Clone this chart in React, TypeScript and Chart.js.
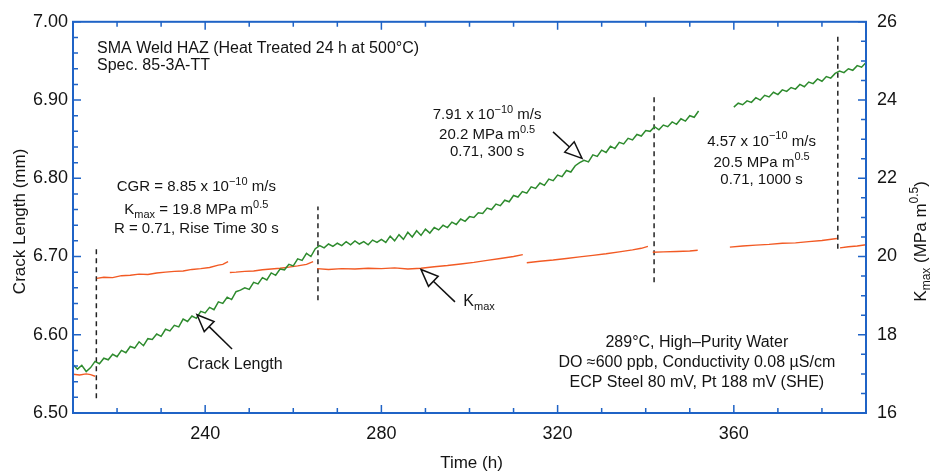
import React, { useEffect, useRef } from "react";
import { Chart, registerables } from "chart.js";

Chart.register(...registerables);

// ---- data ----
const crackSeg1StartHour = 210;
const crackSeg1 = [
  6.562, 6.556, 6.561, 6.553, 6.558, 6.566, 6.563, 6.570, 6.568, 6.575,
  6.572, 6.580, 6.577, 6.585, 6.583, 6.591, 6.586, 6.595, 6.594, 6.601,
  6.598, 6.607, 6.605, 6.612, 6.610, 6.620, 6.617, 6.624, 6.621, 6.630,
  6.628, 6.635, 6.632, 6.642, 6.640, 6.648, 6.645, 6.655, 6.657, 6.660,
  6.658, 6.667, 6.665, 6.673, 6.670, 6.679, 6.676, 6.684, 6.683, 6.690,
  6.688, 6.697, 6.695, 6.704, 6.700, 6.710, 6.714, 6.711, 6.716, 6.713,
  6.717, 6.714, 6.719, 6.715, 6.720, 6.716, 6.719, 6.715, 6.721, 6.718,
  6.722, 6.718, 6.726, 6.720, 6.728, 6.722, 6.731, 6.725, 6.733, 6.727,
  6.735, 6.730, 6.737, 6.734, 6.740, 6.737, 6.744, 6.741, 6.748, 6.745,
  6.751, 6.750, 6.756, 6.755, 6.762, 6.760, 6.767, 6.765, 6.772, 6.770,
  6.778, 6.776, 6.783, 6.781, 6.789, 6.787, 6.794, 6.791, 6.799, 6.797,
  6.804, 6.802, 6.810, 6.808, 6.816, 6.820, 6.823, 6.821, 6.830, 6.828,
  6.836, 6.833, 6.841, 6.838, 6.846, 6.844, 6.851, 6.849, 6.856, 6.854,
  6.861, 6.860, 6.866, 6.862, 6.868, 6.866, 6.872, 6.869, 6.876, 6.873,
  6.880, 6.878, 6.886,
];
const crackSeg2StartHour = 360;
const crackSeg2 = [
  6.891, 6.896, 6.894, 6.899, 6.897, 6.903, 6.900, 6.906, 6.904, 6.910,
  6.907, 6.913, 6.911, 6.916, 6.914, 6.920, 6.917, 6.923, 6.921, 6.927,
  6.924, 6.930, 6.928, 6.934, 6.937, 6.935, 6.940, 6.938, 6.944, 6.942,
  6.948,
];

const kmaxHours = [
  210, 211.5, 213, 214, 215, 215.2,
  215.4, 217, 219, 221, 223, 225, 227, 229, 231, 233, 235, 237, 239, 241, 243, 244, 245.2, 245.4,
  245.6, 247, 249, 251, 253, 255, 257, 259, 261, 263, 264.5, 265,
  265.4, 268, 271, 274, 277, 280, 283, 286, 289, 292, 295, 298, 301, 304, 307, 310, 312.1, 312.5,
  313, 316, 319, 322, 325, 328, 331, 334, 337, 339, 340.5, 341,
  341.6, 344, 347, 350, 351.8, 355,
  359.1, 362, 365, 368, 371, 374, 377, 380, 383.4, 383.8,
  384.1, 386, 388, 390,
];
const kmaxValues = [
  16.99, 16.97, 17.0, 16.98, 16.94, null,
  19.44, 19.47, 19.46, 19.51, 19.52, 19.55, 19.54, 19.58, 19.6, 19.62, 19.63, 19.67, 19.69, 19.72, 19.78, 19.8, 19.87, null,
  19.59, 19.6, 19.62, 19.63, 19.66, 19.68, 19.7, 19.73, 19.76, 19.8, 19.87, null,
  19.69, 19.67, 19.69, 19.68, 19.7, 19.69, 19.71, 19.68, 19.7, 19.74, 19.77, 19.81, 19.85, 19.9, 19.95, 20.0, 20.05, null,
  19.84, 19.88, 19.91, 19.95, 19.99, 20.03, 20.07, 20.12, 20.17, 20.21, 20.26, null,
  20.11, 20.12, 20.13, 20.14, 20.16, null,
  20.24, 20.27, 20.29, 20.31, 20.34, 20.35, 20.38, 20.41, 20.46, null,
  20.22, 20.25, 20.27, 20.3,
];

// dashed markers where test conditions changed
const markerHours = [215.3, 265.6, 341.9, 383.6];
const markerLow = [6.519, 6.644, 6.667, 6.71];
const markerHigh = [6.711, 6.764, 6.908, 6.981];

// axis ranges and labels
const timeRange = [210, 390];
const timeLabelEvery = 40;
const crackRange = [6.5, 7.0];
const kmaxRange = [16, 26];

type Part = { t: string; s?: "sup" | "sub" };

const notes: { parts: Part[]; h: number; mm: number; align: CanvasTextAlign; size: number }[] = [
  { parts: [{ t: "SMA Weld HAZ (Heat Treated 24 h at 500°C)" }], h: 215.45, mm: 6.966, align: "left", size: 16 },
  { parts: [{ t: "Spec. 85-3A-TT" }], h: 215.45, mm: 6.944, align: "left", size: 16 },
  { parts: [{ t: "CGR = 8.85 x 10" }, { t: "−10", s: "sup" }, { t: " m/s" }], h: 238.0, mm: 6.789, align: "center", size: 15 },
  { parts: [{ t: "K" }, { t: "max", s: "sub" }, { t: " = 19.8 MPa m" }, { t: "0.5", s: "sup" }], h: 238.0, mm: 6.759, align: "center", size: 15 },
  { parts: [{ t: "R = 0.71, Rise Time 30 s" }], h: 238.0, mm: 6.735, align: "center", size: 15 },
  { parts: [{ t: "7.91 x 10" }, { t: "−10", s: "sup" }, { t: " m/s" }], h: 304.0, mm: 6.881, align: "center", size: 15 },
  { parts: [{ t: "20.2 MPa m" }, { t: "0.5", s: "sup" }], h: 304.0, mm: 6.855, align: "center", size: 15 },
  { parts: [{ t: "0.71, 300 s" }], h: 304.0, mm: 6.834, align: "center", size: 15 },
  { parts: [{ t: "4.57 x 10" }, { t: "−10", s: "sup" }, { t: " m/s" }], h: 366.3, mm: 6.847, align: "center", size: 15 },
  { parts: [{ t: "20.5 MPa m" }, { t: "0.5", s: "sup" }], h: 366.3, mm: 6.82, align: "center", size: 15 },
  { parts: [{ t: "0.71, 1000 s" }], h: 366.3, mm: 6.798, align: "center", size: 15 },
  { parts: [{ t: "Crack Length" }], h: 246.8, mm: 6.5616, align: "center", size: 16 },
  { parts: [{ t: "K" }, { t: "max", s: "sub" }], h: 298.6, mm: 6.642, align: "left", size: 16 },
  { parts: [{ t: "289°C, High–Purity Water" }], h: 351.6, mm: 6.5905, align: "center", size: 16 },
  { parts: [{ t: "DO ≈600 ppb, Conductivity 0.08 µS/cm" }], h: 351.6, mm: 6.564, align: "center", size: 16 },
  { parts: [{ t: "ECP Steel 80 mV, Pt 188 mV (SHE)" }], h: 351.6, mm: 6.539, align: "center", size: 16 },
];

const arrows = [
  { fromH: 246.1, fromMm: 6.5817, toH: 238.15, toMm: 6.6256 },
  { fromH: 296.7, fromMm: 6.642, toH: 289.0, toMm: 6.6834 },
  { fromH: 318.96, fromMm: 6.8593, toH: 325.54, toMm: 6.8254 },
];

const FONT = "'Liberation Sans', Arial, Helvetica, sans-serif";
const AXIS_BLUE = "#1f63c6";
const TEXT = "#141414";

function drawRich(ctx: CanvasRenderingContext2D, parts: Part[], x: number, y: number, align: CanvasTextAlign, size: number) {
  const small = Math.round(size * 0.7);
  const fontFor = (p: Part) => `${p.s ? small : size}px ${FONT}`;
  let total = 0;
  const widths = parts.map((p) => {
    ctx.font = fontFor(p);
    const w = ctx.measureText(p.t).width;
    total += w;
    return w;
  });
  let cx = align === "center" ? x - total / 2 : align === "right" ? x - total : x;
  ctx.textAlign = "left";
  ctx.textBaseline = "middle";
  parts.forEach((p, i) => {
    ctx.font = fontFor(p);
    const dy = p.s === "sup" ? -size * 0.36 : p.s === "sub" ? size * 0.32 : 0;
    ctx.fillText(p.t, cx, y + dy);
    cx += widths[i];
  });
}

function drawArrow(ctx: CanvasRenderingContext2D, x1: number, y1: number, x2: number, y2: number) {
  const dx = x2 - x1, dy = y2 - y1;
  const len = Math.hypot(dx, dy);
  const ux = dx / len, uy = dy / len;
  const L = 17, W = 7;
  const bx = x2 - ux * L, by = y2 - uy * L;
  ctx.beginPath();
  ctx.moveTo(x1, y1);
  ctx.lineTo(bx, by);
  ctx.stroke();
  ctx.beginPath();
  ctx.moveTo(x2, y2);
  ctx.lineTo(bx - uy * W, by + ux * W);
  ctx.lineTo(bx + uy * W, by - ux * W);
  ctx.closePath();
  ctx.fillStyle = "#fff";
  ctx.fill();
  ctx.stroke();
}

const overlay = {
  id: "overlay",
  afterDatasetsDraw(chart: any) {
    const { ctx, chartArea: a, scales } = chart;
    const xs = scales.x, ys = scales.y, ks = scales.y2;
    ctx.save();
    // frame
    ctx.strokeStyle = AXIS_BLUE;
    ctx.lineWidth = 2;
    ctx.strokeRect(a.left, a.top, a.right - a.left, a.bottom - a.top);
    // inward ticks
    ctx.lineWidth = 1.5;
    ctx.beginPath();
    xs.ticks.forEach((t: any) => {
      const p = xs.getPixelForValue(t.value);
      const L = t.label ? 8 : 5;
      ctx.moveTo(p, a.bottom);
      ctx.lineTo(p, a.bottom - L);
      ctx.moveTo(p, a.top);
      ctx.lineTo(p, a.top + L);
    });
    ys.ticks.forEach((t: any) => {
      const p = ys.getPixelForValue(t.value);
      const L = t.label ? 8 : 5;
      ctx.moveTo(a.left, p);
      ctx.lineTo(a.left + L, p);
    });
    ks.ticks.forEach((t: any) => {
      const p = ks.getPixelForValue(t.value);
      const L = t.label ? 8 : 5;
      ctx.moveTo(a.right, p);
      ctx.lineTo(a.right - L, p);
    });
    ctx.stroke();

    ctx.fillStyle = TEXT;
    // axis titles
    ctx.save();
    ctx.translate(a.left - 53, (a.top + a.bottom) / 2 + 4);
    ctx.rotate(-Math.PI / 2);
    drawRich(ctx, [{ t: "Crack Length (mm)" }], 0, 0, "center", 17);
    ctx.restore();
    ctx.save();
    ctx.translate(a.right + 55, (a.top + a.bottom) / 2 + 24);
    ctx.rotate(-Math.PI / 2);
    drawRich(ctx, [{ t: "K" }, { t: "max", s: "sub" }, { t: " (MPa m" }, { t: "0.5", s: "sup" }, { t: ")" }], 0, 0, "center", 17);
    ctx.restore();
    drawRich(ctx, [{ t: "Time (h)" }], (a.left + a.right) / 2 + 2, a.bottom + 50, "center", 17);

    // annotations
    notes.forEach((n) => {
      ctx.fillStyle = TEXT;
      drawRich(ctx, n.parts, xs.getPixelForValue(n.h), ys.getPixelForValue(n.mm), n.align, n.size);
    });
    ctx.strokeStyle = "#111";
    ctx.lineWidth = 1.5;
    arrows.forEach((r) => {
      drawArrow(ctx, xs.getPixelForValue(r.fromH), ys.getPixelForValue(r.fromMm), xs.getPixelForValue(r.toH), ys.getPixelForValue(r.toMm));
    });
    ctx.restore();
  },
};

export default function App() {
  const ref = useRef<HTMLCanvasElement | null>(null);

  useEffect(() => {
    if (!ref.current) return;
    const crackData: any[] = [
      ...crackSeg1.map((v, i) => ({ x: crackSeg1StartHour + i, y: v })),
      { x: 356, y: null },
      ...crackSeg2.map((v, i) => ({ x: crackSeg2StartHour + i, y: v })),
    ];
    const kmaxData = kmaxHours.map((h, i) => ({ x: h, y: kmaxValues[i] }));
    const markerData: any[] = [];
    markerHours.forEach((h, i) => {
      markerData.push({ x: h, y: markerLow[i] }, { x: h, y: markerHigh[i] }, { x: h, y: null });
    });

    const tickFont = { family: FONT, size: 18 };
    const chart = new Chart(ref.current, {
      type: "line",
      data: {
        datasets: [
          {
            label: "Crack Length",
            data: crackData,
            yAxisID: "y",
            borderColor: "#2e8b2e",
            borderWidth: 1.5,
            pointRadius: 0,
            tension: 0,
            spanGaps: false,
          },
          {
            label: "Kmax",
            data: kmaxData as any,
            yAxisID: "y2",
            borderColor: "#f25a24",
            borderWidth: 1.4,
            pointRadius: 0,
            tension: 0,
            spanGaps: false,
          },
          {
            label: "markers",
            data: markerData,
            yAxisID: "y",
            borderColor: "#222",
            borderWidth: 1.5,
            borderDash: [5, 4],
            pointRadius: 0,
            spanGaps: false,
          },
        ],
      },
      options: {
        responsive: false,
        animation: false,
        devicePixelRatio: 1,
        layout: { padding: { top: 15, bottom: 0, left: 0, right: 0 } },
        plugins: { legend: { display: false }, tooltip: { enabled: false }, title: { display: false } },
        scales: {
          x: {
            type: "linear",
            min: timeRange[0],
            max: timeRange[1],
            grid: { display: false, drawTicks: false },
            border: { display: false },
            ticks: {
              stepSize: 10,
              autoSkip: false,
              maxRotation: 0,
              padding: 10,
              color: TEXT,
              font: tickFont,
              callback: (v: any) => (Math.round(v) % timeLabelEvery === 0 ? String(Math.round(v)) : ""),
            },
            afterFit: (s: any) => {
              s.height = 63;
            },
          },
          y: {
            type: "linear",
            position: "left",
            min: crackRange[0],
            max: crackRange[1],
            grid: { display: false, drawTicks: false },
            border: { display: false },
            ticks: {
              stepSize: 0.02,
              autoSkip: false,
              padding: 5,
              color: TEXT,
              font: tickFont,
              callback: (v: any) => (Math.round(v * 100) % 10 === 0 ? Number(v).toFixed(2) : ""),
            },
            afterFit: (s: any) => {
              s.width = 73;
            },
          },
          y2: {
            type: "linear",
            position: "right",
            min: kmaxRange[0],
            max: kmaxRange[1],
            grid: { display: false, drawTicks: false },
            border: { display: false },
            ticks: {
              stepSize: 0.5,
              autoSkip: false,
              padding: 11,
              color: TEXT,
              font: tickFont,
              callback: (v: any) => (Math.abs(v - Math.round(v)) < 1e-6 && Math.round(v) % 2 === 0 ? String(Math.round(v)) : ""),
            },
            afterFit: (s: any) => {
              s.width = 75;
            },
          },
        },
      },
      plugins: [overlay],
    });
    return () => chart.destroy();
  }, []);

  return (
    <div style={{ position: "fixed", left: 0, top: 0, width: 941, height: 476, background: "#fff" }}>
      <canvas ref={ref} width={941} height={476} style={{ display: "block" }} />
    </div>
  );
}
